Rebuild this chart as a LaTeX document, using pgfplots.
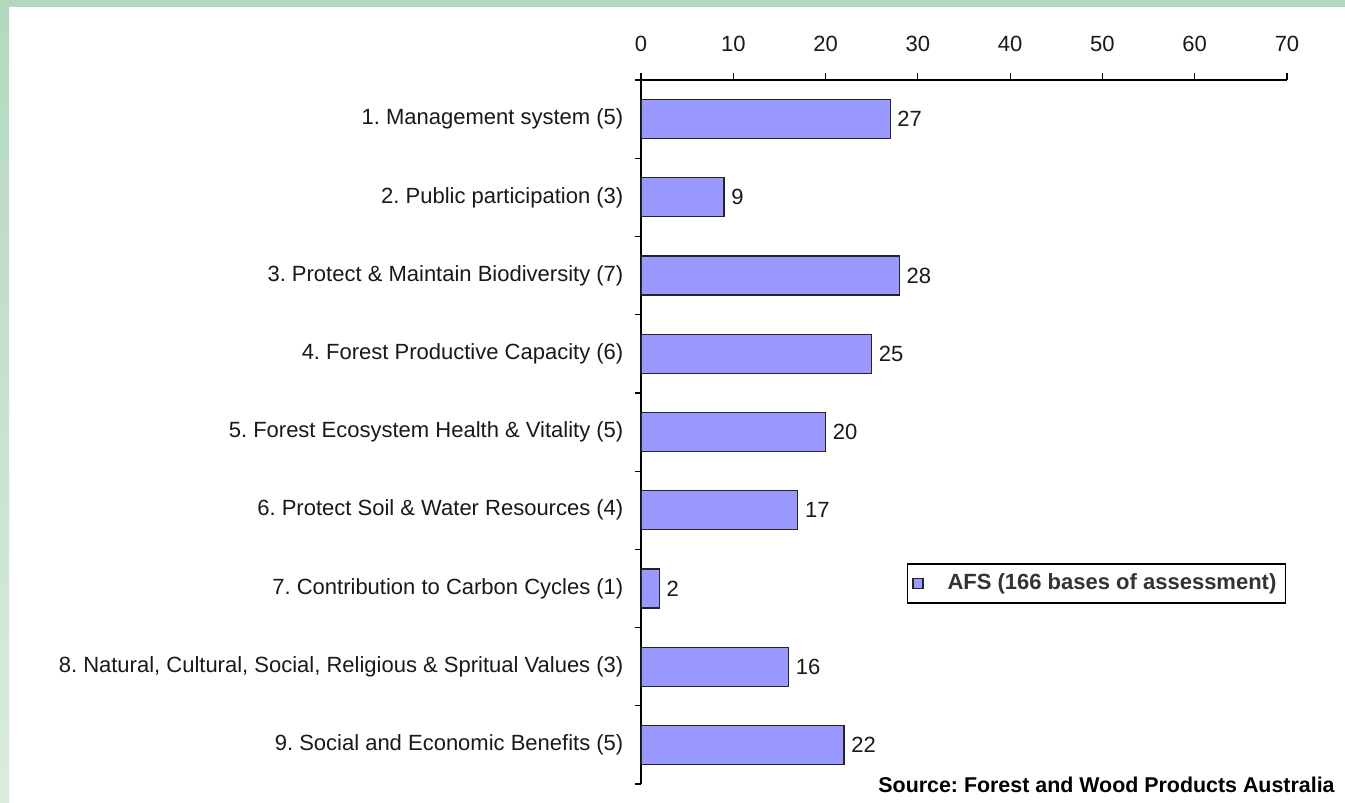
\documentclass[border=0pt]{standalone}
\usepackage{fontspec}
\setmainfont{Liberation Sans}
\usepackage{pgfplots}
\pgfplotsset{compat=1.18}
\definecolor{barblue}{HTML}{9999FF}
\definecolor{bordgreen}{HTML}{B4D8BE}
\newcommand{\lf}{\fontsize{11}{13}\selectfont}
\frenchspacing
\begin{document}
\begin{tikzpicture}
\path[use as bounding box] (0,0) rectangle (672.5pt,-401.5pt);
\fill[white] (0,0) rectangle (672.5pt,-401.5pt);
\shade[top color=bordgreen, bottom color=bordgreen!50!white] (0,0) rectangle (4.5pt,-401.5pt);
\fill[bordgreen] (0,0) rectangle (672.5pt,-3.5pt);
\begin{axis}[
  at={(320.5pt,-392pt)}, anchor=south west,
  scale only axis, width=323pt, height=352pt,
  xbar, bar width=19.5pt,
  xmin=0, xmax=70, ymin=0.5, ymax=9.5,
  axis x line*=top, axis y line*=left,
  xtick={0,10,...,70},
  ytick={1,...,9},
  yticklabels={{9. Social and Economic Benefits (5)},
    {8. Natural, Cultural, Social, Religious \& Spritual Values (3)},
    {7. Contribution to Carbon Cycles (1)},
    {6. Protect Soil \& Water Resources (4)},
    {5. Forest Ecosystem Health \& Vitality (5)},
    {4. Forest Productive Capacity (6)},
    {3. Protect \& Maintain Biodiversity (7)},
    {2. Public participation (3)},
    {1. Management system (5)}},
  minor ytick={0.5,1.5,...,9.5},
  major y tick style={draw=none},
  tick align=outside,
  major tick length=3.5pt, minor tick length=3pt,
  tick style={black, line width=0.6pt},
  axis line style={black, line width=0.6pt},
  /pgf/number format/assume math mode=true,
  tick label style={font=\lf, text=black!90},
  xticklabel shift=7pt,
  yticklabel shift=1.8pt,
  nodes near coords,
  nodes near coords style={font=\lf, text=black!90},
  legend style={at={(0.411,0.314)}, anchor=north west, draw=black, line width=0.8pt,
    font=\bfseries\lf, text=black!80, inner xsep=2.5pt, inner ysep=3pt,
    cells={anchor=west}, /tikz/column sep=0pt},
  legend image code/.code={\draw[#1, line width=0.6pt] (0pt,-2.5pt) rectangle (5pt,2.5pt);},
  legend style={nodes={inner xsep=2pt}},
]
\addplot[fill=barblue, draw=black!85, line width=0.6pt] coordinates {
  (22,1) (16,2) (2,3) (17,4) (20,5) (25,6) (28,7) (9,8) (27,9)};
\addlegendentry{\hspace{10pt}AFS (166 bases of assessment)}
\end{axis}
\node[anchor=east, font=\bfseries\fontsize{10.7}{12}\selectfont, inner sep=0pt] at (667.5pt,-392.5pt) {Source: Forest and Wood Products Australia};
\end{tikzpicture}
\end{document}
